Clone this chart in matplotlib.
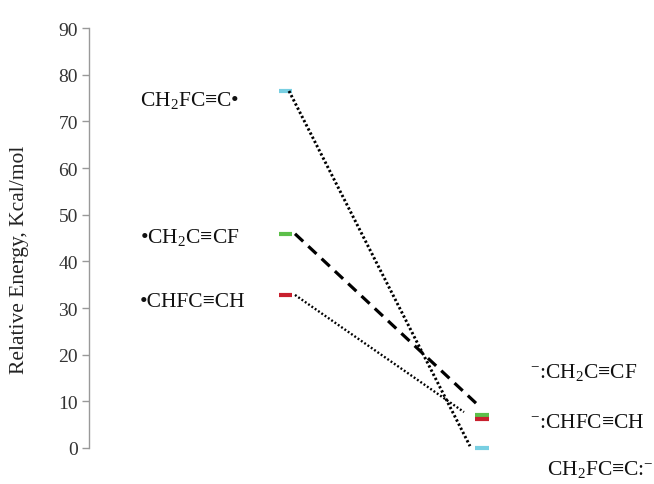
import matplotlib
matplotlib.use("Agg")
import matplotlib.pyplot as plt

plt.rcParams['font.family'] = ['Liberation Serif', 'DejaVu Serif']
plt.rcParams['mathtext.fontset'] = 'custom'
plt.rcParams['mathtext.rm'] = 'Liberation Serif'
plt.rcParams['mathtext.it'] = 'Liberation Serif'

# ---- data ----
radical_labels = ["CH$_2$FC≡C•", "•CH$_2$C≡CF", "•CHFC≡CH"]
anion_labels = ["CH$_2$FC≡C:$^{-}$", "$^{-}$:CH$_2$C≡CF", "$^{-}$:CHFC≡CH"]
radical_energy = [76.5, 45.9, 32.8]
anion_energy = [0.0, 7.1, 6.2]
level_colors = ["#78cfe2", "#5cbf4a", "#c8202e"]
yticks = [0, 10, 20, 30, 40, 50, 60, 70, 80, 90]

# ---- layout (x in axis units) ----
left_bar = (190, 203)
right_bar = (386, 400)
conn_start_x = [200, 206, 206]
conn_end_x = [381, 392, 375]
conn_end_gap = [0.4, 1.5, 1.5]
conn_styles = [dict(ls=(0, (0.8, 0.8)), lw=2.1),
               dict(ls=(0, (3.5, 2.2)), lw=2.3),
               dict(ls=(0, (0.8, 0.9)), lw=1.7)]
radical_label_x = 51
radical_label_off = [-1.9, -0.5, -1.5]
anion_label_x = [458, 441, 441]
anion_label_y = [-4.5, 16.3, 5.4]

fig = plt.figure(figsize=(6.54, 4.85), dpi=100)
ax = fig.add_axes([89/654, 36/485, 565/654, 420/485])
ax.set_xlim(0, 565)
ax.set_ylim(0, 90)

for i in range(3):
    ax.plot(left_bar, [radical_energy[i]] * 2, color=level_colors[i], lw=3.0,
            solid_capstyle='butt')
    ax.plot(right_bar, [anion_energy[i]] * 2, color=level_colors[i], lw=3.0,
            solid_capstyle='butt', clip_on=False)
    ax.plot([conn_start_x[i], conn_end_x[i]],
            [radical_energy[i], anion_energy[i] + conn_end_gap[i]],
            color='black', dash_capstyle='butt', **conn_styles[i])
    ax.text(radical_label_x, radical_energy[i] + radical_label_off[i],
            radical_labels[i], fontsize=15.5, va='center', ha='left', color='#111')
    ax.text(anion_label_x[i], anion_label_y[i], anion_labels[i],
            fontsize=15.5, va='center', ha='left', color='#111', clip_on=False)

for s in ['top', 'right', 'bottom']:
    ax.spines[s].set_visible(False)
ax.spines['left'].set_color('#999999')
ax.spines['left'].set_linewidth(1.0)
ax.set_xticks([])
ax.set_yticks(yticks)
ax.tick_params(axis='y', direction='out', length=5, width=1, color='#999999',
               labelsize=14, labelcolor='#333333', pad=3)

fig.text(20/654, 1 - 260/485, "Relative Energy, Kcal/mol", rotation=90,
         fontsize=15.5, ha='center', va='center', color='#222222')

fig.savefig("out.png", dpi=100)
